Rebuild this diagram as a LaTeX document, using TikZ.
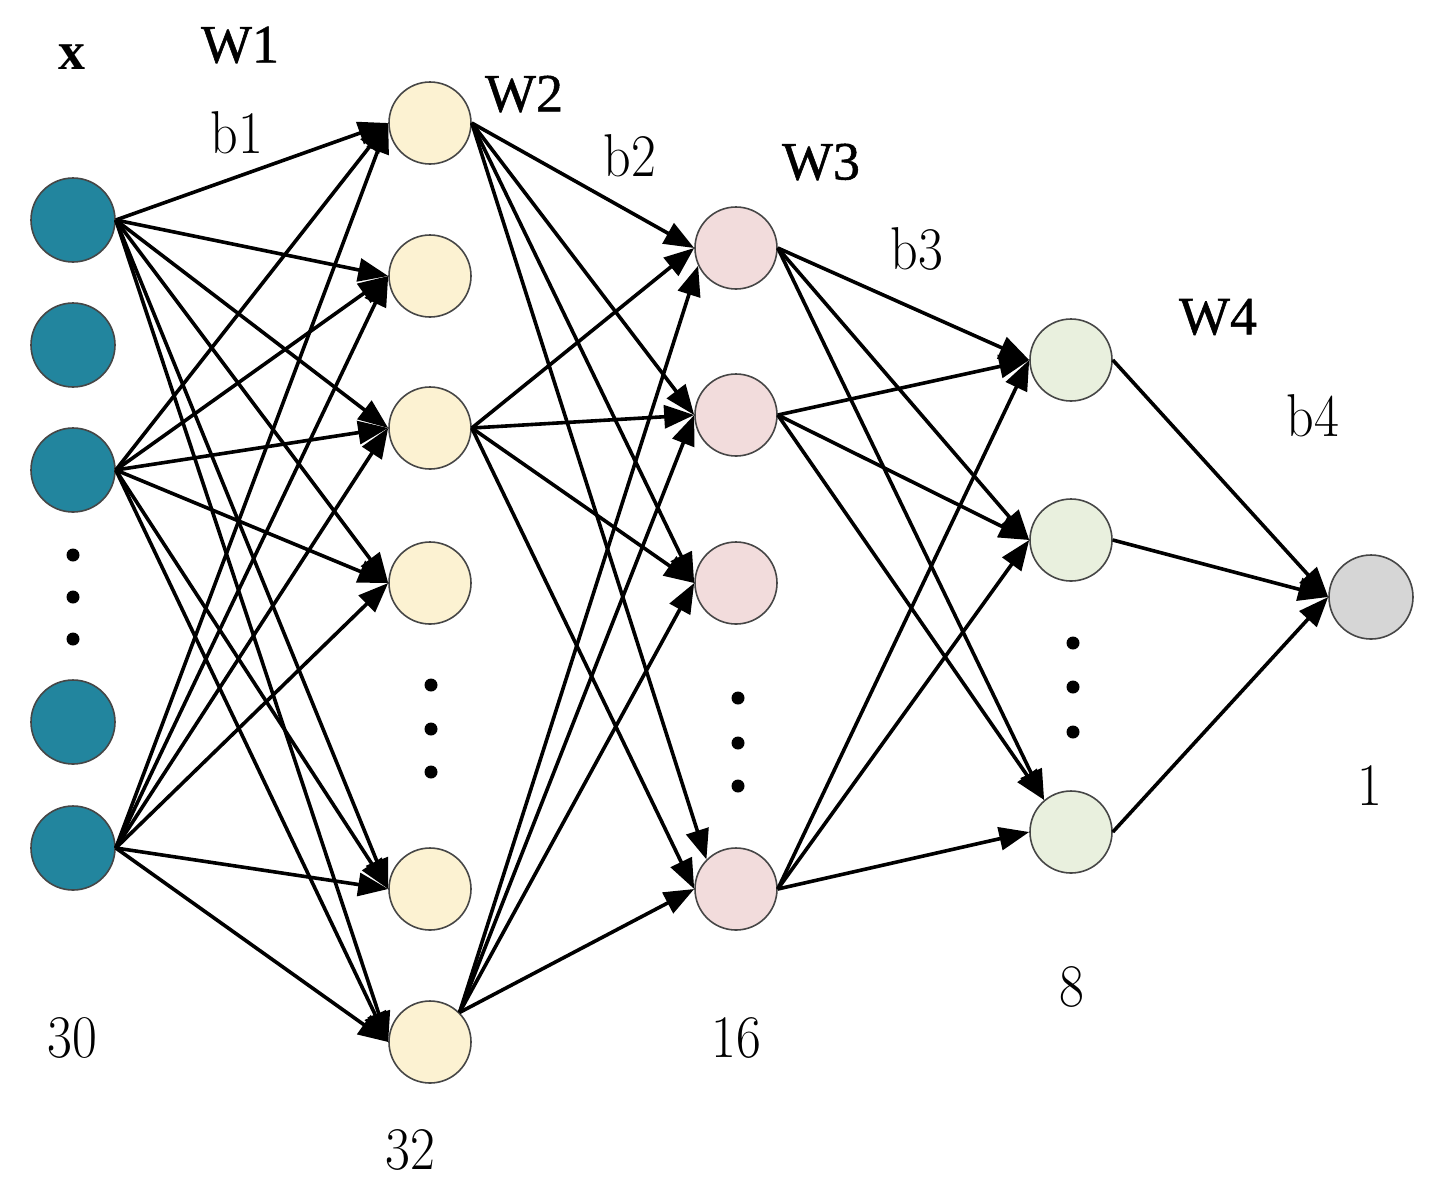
\documentclass[tikz,border=0pt]{standalone}
\usepackage{fontspec}
\usepackage{graphicx}
\newfontfamily\timesf[FakeBold=1]{Liberation Serif}
\newfontfamily\timesbf{Liberation Serif Bold}
\usetikzlibrary{arrows.meta}
\definecolor{tealc}{RGB}{34,133,158}
\definecolor{yelc}{RGB}{252,242,210}
\definecolor{pnkc}{RGB}{242,220,220}
\definecolor{grnc}{RGB}{233,240,222}
\definecolor{gryc}{RGB}{214,214,214}
\definecolor{rimc}{RGB}{70,70,70}
\newcommand\talltext[1]{\scalebox{1}[1.12]{#1}}
\begin{document}
\begin{tikzpicture}[x=0.5pt,y=-0.5pt,
  neuron/.style={circle,draw=rimc,line width=0.8pt,inner sep=0pt,minimum size=41pt},
  inp/.style={neuron,fill=tealc,minimum size=42pt},
  hidA/.style={neuron,fill=yelc},
  hidB/.style={neuron,fill=pnkc},
  hidC/.style={neuron,fill=grnc},
  outn/.style={neuron,fill=gryc,minimum size=42pt},
  conn/.style={line width=1.8pt,-{Triangle[length=15pt,width=11.5pt]}},
  vdot/.style={circle,fill=black,inner sep=0pt,minimum size=6.5pt},
  wlbl/.style={font=\timesf\fontsize{27}{30}\selectfont,inner sep=0pt},
  xlbl/.style={font=\timesbf\fontsize{27}{30}\selectfont,inner sep=0pt},
  lbl/.style={font=\fontsize{27}{30}\selectfont,inner sep=0pt},
]
\fill[white] (0,0) rectangle (1431,1196);
\useasboundingbox (0,0) rectangle (1431,1196);

% layer 1
\node[inp] (i1) at (73,220) {};
\node[inp] (i2) at (73,345) {};
\node[inp] (i3) at (73,470) {};
\node[inp] (i4) at (73,722) {};
\node[inp] (i5) at (73,848) {};
% layer 2
\node[hidA] (h1) at (430,123) {};
\node[hidA] (h2) at (430,276) {};
\node[hidA] (h3) at (430,428) {};
\node[hidA] (h4) at (430,583) {};
\node[hidA] (h5) at (430,889) {};
\node[hidA] (h6) at (430,1042) {};
% layer 3
\node[hidB] (g1) at (736,248) {};
\node[hidB] (g2) at (736,415) {};
\node[hidB] (g3) at (736,583) {};
\node[hidB] (g4) at (736,889) {};
% layer 4
\node[hidC] (f1) at (1071,360) {};
\node[hidC] (f2) at (1071,540) {};
\node[hidC] (f3) at (1071,832) {};
% output
\node[outn] (o) at (1371,597) {};

% dots
\node[vdot] (d11) at (73,555) {};
\node[vdot] (d12) at (73,597) {};
\node[vdot] (d13) at (73,639) {};
\node[vdot] (d21) at (431,685) {};
\node[vdot] (d22) at (431,729) {};
\node[vdot] (d23) at (431,772) {};
\node[vdot] (d31) at (738,698) {};
\node[vdot] (d32) at (738,743) {};
\node[vdot] (d33) at (738,786) {};
\node[vdot] (d41) at (1073,643) {};
\node[vdot] (d42) at (1073,687) {};
\node[vdot] (d43) at (1073,732) {};

% layer 1 -> layer 2
\foreach \s in {1,3,5}{
  \foreach \t in {1,...,6}{
    \draw[conn] (i\s.east) -- (h\t.west);
  }
}
% layer 2 -> layer 3
\foreach \t in {1,2,3}{\draw[conn] (h1.east) -- (g\t.west);}
\draw[conn] (h1.east) -- (g4.135);
\foreach \t in {1,...,4}{\draw[conn] (h3.east) -- (g\t.west);}
\draw[conn] (h6.45) -- (g1.205);
\foreach \t in {2,3,4}{\draw[conn] (h6.45) -- (g\t.west);}
% layer 3 -> layer 4
\foreach \s in {1,2}{
  \draw[conn] (g\s.east) -- (f1.west);
  \draw[conn] (g\s.east) -- (f2.west);
  \draw[conn] (g\s.east) -- (f3.130);
}
\foreach \t in {1,2,3}{\draw[conn] (g4.east) -- (f\t.west);}
% layer 4 -> output
\foreach \s in {1,2,3}{\draw[conn] (f\s.east) -- (o.west);}

% labels
\node[xlbl] (lx) at (72,57) {x};
\node[wlbl] (lw1) at (240,45) {W1};
\node[lbl] (lb1) at (237,133) {\talltext{b1}};
\node[wlbl] (lw2) at (524,94) {W2};
\node[lbl] (lb2) at (630,156) {\talltext{b2}};
\node[wlbl] (lw3) at (821,162) {W3};
\node[lbl] (lb3) at (917,249) {\talltext{b3}};
\node[wlbl] (lw4) at (1218,317) {W4};
\node[lbl] (lb4) at (1313,416) {\talltext{b4}};
\node[lbl] (n30) at (72,1038) {\talltext{30}};
\node[lbl] (n32) at (410,1150) {\talltext{32}};
\node[lbl] (n16) at (736,1038) {\talltext{16}};
\node[lbl] (n8) at (1072,987) {\talltext{8}};
\node[lbl] (n1) at (1370,785) {\talltext{1}};
\end{tikzpicture}
\end{document}
